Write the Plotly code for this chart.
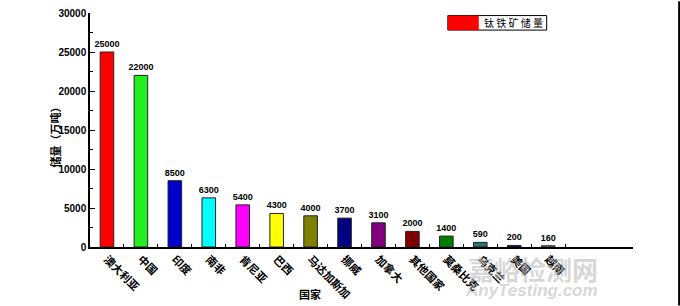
import plotly.graph_objects as go

countries = ["澳大利亚", "中国", "印度", "南非", "肯尼亚", "巴西", "马达加斯加",
             "挪威", "加拿大", "其他国家", "莫桑比克", "乌克兰", "美国", "越南"]
reserves = [25000, 22000, 8500, 6300, 5400, 4300, 4000, 3700, 3100, 2000, 1400, 590, 200, 160]
colors = ["#ff0000", "#22ee22", "#0000cc", "#00ffff", "#ff00ff", "#ffff00", "#808000",
          "#000080", "#800080", "#800000", "#008000", "#2f7070", "#0000a0", "#a0a0a0"]
series_name = "钛铁矿储量"
y_ticks = [0, 5000, 10000, 15000, 20000, 25000, 30000]

bold = "Liberation Sans, Noto Sans CJK SC"

fig = go.Figure()
fig.add_trace(go.Bar(
    x=countries, y=reserves, name=series_name,
    marker=dict(color=colors, line=dict(color="#222222", width=1)),
    width=0.4,
    text=[str(v) for v in reserves], textposition="outside",
    textfont=dict(family=bold, size=9, color="black", weight="bold"),
    constraintext="none", cliponaxis=False, showlegend=False,
))

fig.update_layout(
    width=680, height=306,
    margin=dict(l=90, r=47, t=13, b=59),
    plot_bgcolor="white", paper_bgcolor="white",
    font=dict(family=bold, color="black"),
    bargap=0.6,
    xaxis=dict(
        type="category", range=[-0.5, 15.5], automargin=False,
        showline=True, linecolor="black", linewidth=1.5,
        ticks="inside", ticklen=3, tickson="boundaries", tickcolor="black",
        tickangle=45, tickfont=dict(size=11, weight="bold"),
        showgrid=False,
    ),
    yaxis=dict(
        range=[0, 30000], tickvals=y_ticks, ticktext=[str(t) for t in y_ticks],
        automargin=False,
        showline=True, linecolor="black", linewidth=1.5,
        ticks="inside", ticklen=5, tickcolor="black",
        minor=dict(ticks="inside", ticklen=3, dtick=2500, tickcolor="black"),
        tickfont=dict(size=10, weight="bold"),
        showgrid=False, zeroline=False,
    ),
    shapes=[
        dict(type="rect", xref="paper", yref="paper", x0=0.659, x1=0.841, y0=0.927, y1=0.989,
             line=dict(color="black", width=1), fillcolor="white", layer="above"),
        dict(type="rect", xref="paper", yref="paper", x0=0.659, x1=0.716, y0=0.927, y1=0.989,
             line=dict(color="black", width=0), fillcolor=colors[0], layer="above"),
        dict(type="line", xref="paper", yref="paper", x0=1.085, x1=1.085, y0=-0.25, y1=1.05,
             line=dict(color="black", width=2)),
    ],
    annotations=[
        dict(text=" ".join(series_name), xref="paper", yref="paper", x=0.722, y=0.958,
             xanchor="left", yanchor="middle", showarrow=False,
             font=dict(size=10, family="Noto Sans CJK SC", color="black")),
        dict(text="储量（万吨）", xref="paper", yref="paper", x=-0.083, y=0.48,
             textangle=-90, showarrow=False,
             font=dict(size=11, family="Noto Sans CJK SC", weight="bold")),
        dict(text="国家", xref="paper", yref="paper", x=0.405, y=-0.2,
             yanchor="middle", showarrow=False,
             font=dict(size=11, family="Noto Sans CJK SC", weight="bold")),
        dict(text="嘉峪检测网", xref="paper", yref="paper", x=0.94, y=-0.09,
             yanchor="middle", showarrow=False,
             font=dict(size=26, family="Noto Sans CJK SC", color="rgba(180,180,180,0.55)", weight="bold")),
        dict(text="<i>AnyTesting.com</i>", xref="paper", yref="paper", x=0.94, y=-0.185,
             yanchor="middle", showarrow=False,
             font=dict(size=17, family="Liberation Sans", color="rgba(180,180,180,0.55)", weight="bold")),
    ],
)

fig.write_html("out.html")
